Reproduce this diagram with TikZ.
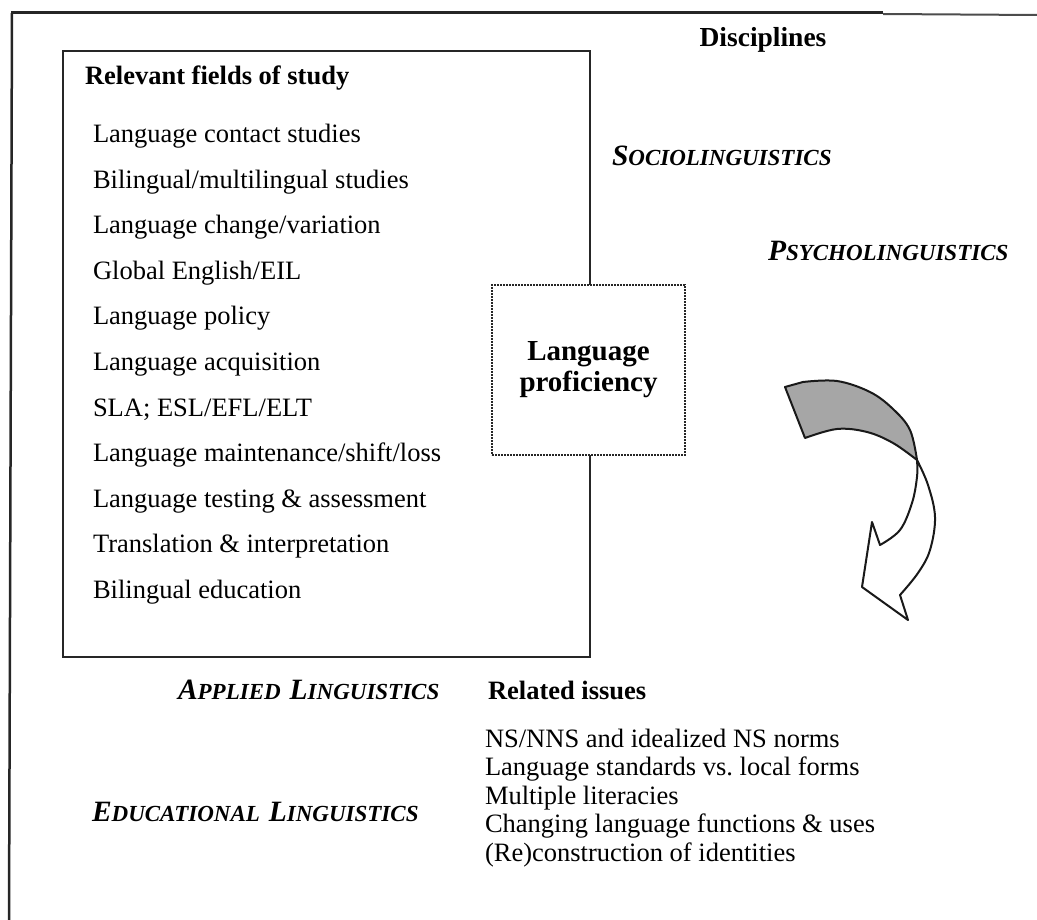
\documentclass[tikz,border=0pt]{standalone}
\usepackage{fontspec}
\setmainfont{Liberation Serif}
% caps with a larger initial letter
\newcommand\dscap[2]{{\fontsize{29.5}{29.5}\selectfont #1}{\fontsize{23}{23}\selectfont #2}}
\newcommand\dgap{\hspace{9pt}}
\begin{document}
\begin{tikzpicture}[x=1pt,y=-1pt,
  every node/.style={inner sep=0pt, outer sep=0pt},
  ink/.style={draw=black!85},
  item/.style={anchor=base west, font=\fontsize{26.5}{26.5}\selectfont},
  issue/.style={anchor=base west, font=\fontsize{26.5}{26.5}\selectfont},
  head/.style={anchor=base west, font=\bfseries\fontsize{26.5}{26.5}\selectfont},
  disc/.style={anchor=base west, font=\bfseries\itshape},
  fieldbox/.style={ink, line width=2.5pt, anchor=north west},
  dotbox/.style={draw=black!85, line width=2.4pt, dash pattern=on 1.6pt off 1.4pt,
    fill=white, align=center, font=\bfseries\fontsize{29}{31}\selectfont},
  arrowline/.style={draw=black!90, line width=2pt, line join=round}
]
\useasboundingbox (0,0) rectangle (1037,920);

% outer frame (top and left rules)
\draw[black!85, line width=3pt] (11,13) -- (883,13);
\draw[black!70, line width=2pt] (883,14) -- (1037,15);
\draw[black!85, line width=2.5pt] (12,13) -- (9,920);

% fields of study
\node[fieldbox, minimum width=527, minimum height=606] (fields) at (63,51) {};
\node[head] (rel) at (85,85) {Relevant fields of study};
\foreach \t [count=\i] in {
  Language contact studies,
  Bilingual/multilingual studies,
  Language change/variation,
  Global English/EIL,
  Language policy,
  Language acquisition,
  SLA; ESL/EFL/ELT,
  Language maintenance/shift/loss,
  Language testing \& assessment,
  Translation \& interpretation,
  Bilingual education}
  \node[item] (f\i) at (93,{143+45.5*(\i-1)}) {\t};

% central box
\node[dotbox, minimum width=193, minimum height=170] (lp) at (588.5,370) {Language\\proficiency};

% disciplines
\node[font=\bfseries\fontsize{27.5}{27.5}\selectfont] (disc) at (763,40) {Disciplines};
\node[disc] (socio) at (612,166) {\dscap{S}{OCIOLINGUISTICS}};
\node[disc] (psycho) at (768,261) {\dscap{P}{SYCHOLINGUISTICS}};
\node[disc] (appl) at (178,699) {\dscap{A}{PPLIED}\dgap\dscap{L}{INGUISTICS}};
\node[disc] (educ) at (92,821) {\dscap{E}{DUCATIONAL}\dgap\dscap{L}{INGUISTICS}};

% related issues
\node[head] (relhead) at (488,699) {Related issues};
\foreach \t [count=\i] in {
  NS/NNS and idealized NS norms,
  Language standards vs.\ local forms,
  Multiple literacies,
  Changing language functions \& uses,
  (Re)construction of identities}
  \node[issue] (r\i) at (485,{747+28.5*(\i-1)}) {\t};

% twisted curved arrow: shaded back face, then white front face with head
\path[arrowline, fill=black!35] (785,387)
  -- plot[smooth, tension=0.6] coordinates {(803,382) (837,381) (870,392) (893,409) (910,430) (917,460)}
  -- plot[smooth, tension=0.6] coordinates {(917,460) (893,443) (867,432) (837,429) (805,438)}
  -- cycle;
\path[arrowline, fill=white] (917,460)
  -- plot[smooth, tension=0.6] coordinates {(917,460) (928,485) (935,517) (930,550) (918,573) (900,595)}
  -- (908,620) -- (862,587) -- (872,522) -- (880,545)
  -- plot[smooth, tension=0.6] coordinates {(880,545) (900,530) (912,503) (917,477) (917,460)}
  -- cycle;
\end{tikzpicture}
\end{document}
